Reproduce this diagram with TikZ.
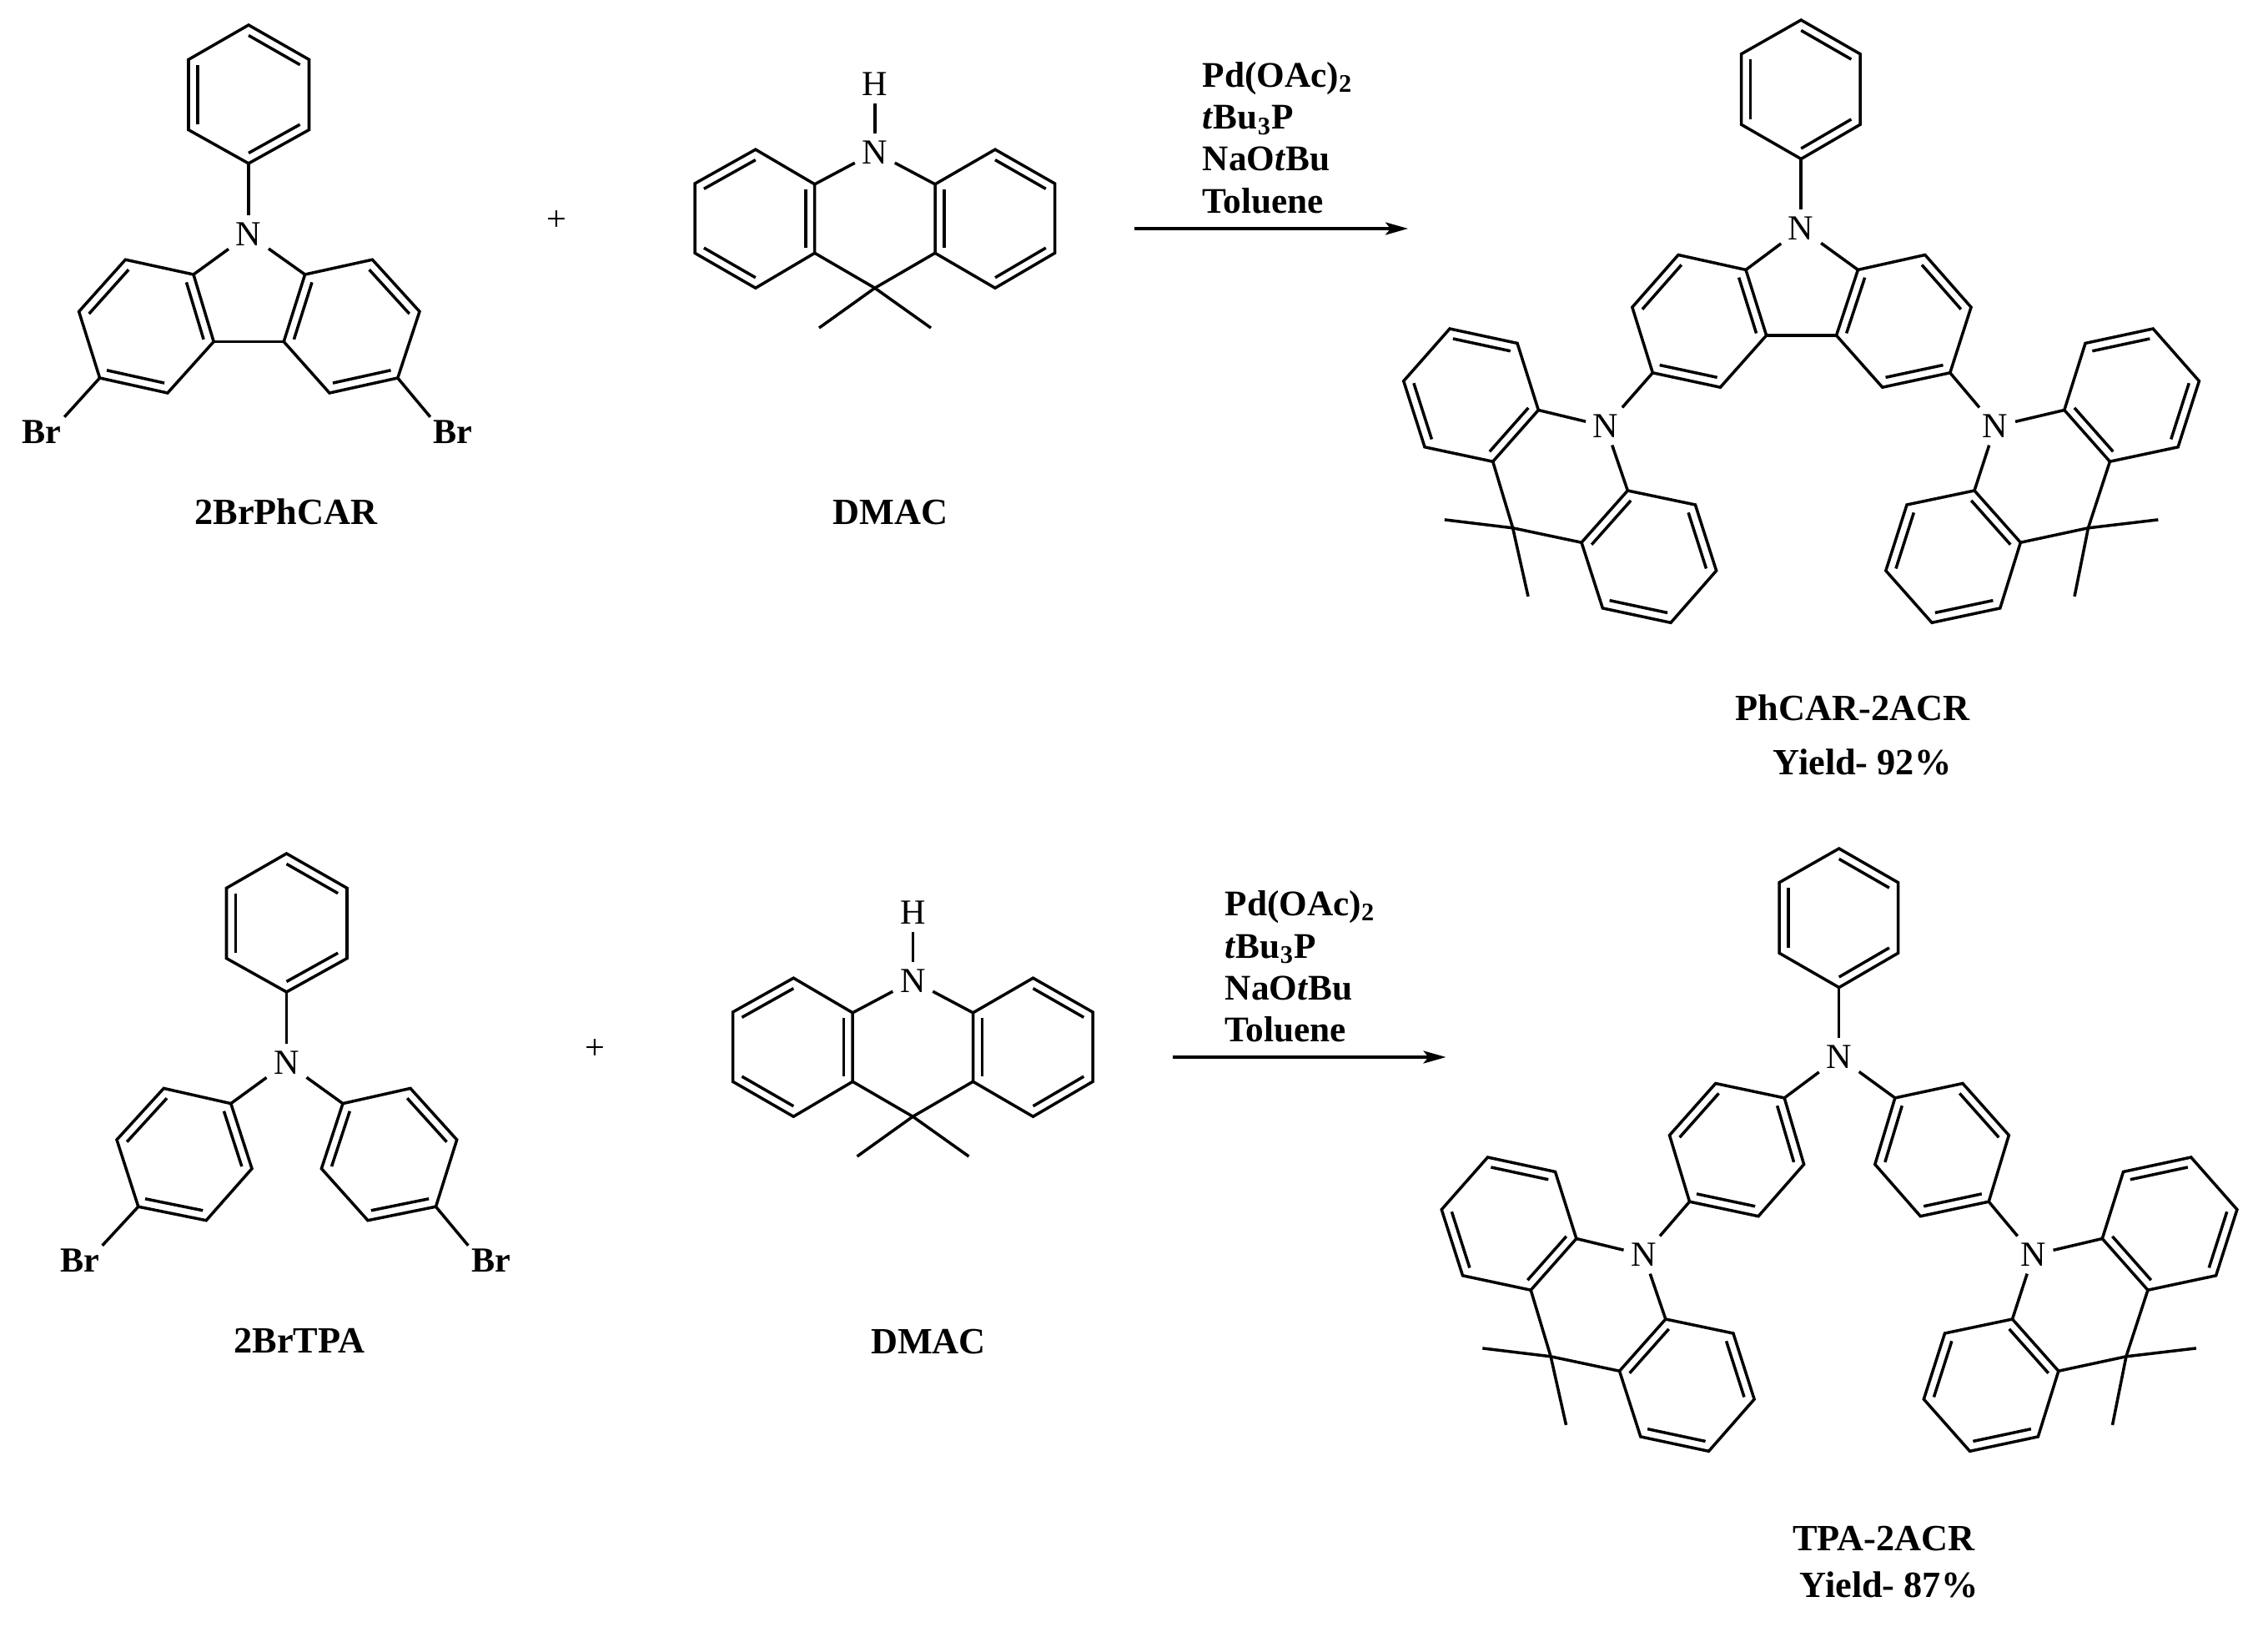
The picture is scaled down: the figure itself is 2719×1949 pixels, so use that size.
\documentclass[tikz,border=0pt]{standalone}
\usepackage{fontspec}
\setmainfont{Liberation Serif}
\usetikzlibrary{calc,arrows.meta}
% six carbons, double bonds on 1-2, 3-4 and 5-6
\newcommand{\hexring}[7]{%
\coordinate (#1-1) at (#2);
\coordinate (#1-2) at (#3);
\coordinate (#1-3) at (#4);
\coordinate (#1-4) at (#5);
\coordinate (#1-5) at (#6);
\coordinate (#1-6) at (#7);
\coordinate (#1-c) at ($(#1-1)!.5!(#1-4)$);
\draw (#1-1) -- (#1-2) -- (#1-3) -- (#1-4) -- (#1-5) -- (#1-6) -- cycle;
\draw ($(#1-1)!.15!(#1-c)$) -- ($(#1-2)!.15!(#1-c)$);
\draw ($(#1-3)!.15!(#1-c)$) -- ($(#1-4)!.15!(#1-c)$);
\draw ($(#1-5)!.15!(#1-c)$) -- ($(#1-6)!.15!(#1-c)$);
}
\begin{document}
\begin{tikzpicture}[x=0.01cm,y=-0.01cm,line width=1pt,
atom/.style={inner sep=0.07cm,font=\fontsize{12}{14}\selectfont},
halogen/.style={inner sep=0.02cm,font=\fontsize{12}{14}\selectfont\bfseries},
cmpd/.style={inner sep=0pt,anchor=base,font=\fontsize{12.6}{15}\selectfont\bfseries},
reagent/.style={inner sep=0pt,anchor=base west,font=\fontsize{12.3}{15}\selectfont\bfseries}]
\useasboundingbox (0,0) rectangle (2719,1949);
% middle rings of reactants and products
\hexring{a-sl}{256.2,409.5}{232,329}{150.4,311.2}{94.6,373.4}{119.6,453}{200.9,471}
\hexring{a-sr}{340.2,409.5}{365.6,329}{446.4,311.2}{503,373.4}{476.8,453}{395,471}
\hexring{b-sl}{302,1400.6}{276.8,1322.6}{196.3,1304.4}{140,1366}{165.8,1446.2}{247.2,1462.7}
\hexring{b-sr}{385.4,1400.6}{411,1322.6}{492,1304.4}{547.7,1366}{522.5,1446.2}{441,1462.7}
\hexring{a-pl}{2117.6,402}{2093,323.4}{2012,305.5}{1956.8,368.2}{1981.3,446.8}{2062.4,464.2}
\hexring{a-pr}{2201.5,402}{2227.4,323.4}{2307.8,305.5}{2363,368.2}{2337.8,446.8}{2256.7,464.2}
\hexring{b-pl}{2162.6,1395.5}{2139.2,1315.9}{2056.7,1298.5}{2001.5,1360.6}{2025.5,1440.2}{2108,1457.7}
\hexring{b-pr}{2247.8,1395.5}{2271.8,1315.9}{2353,1298.5}{2408.3,1360.6}{2384.2,1440.2}{2302.3,1457.7}
\draw (a-sl-1) -- (a-sr-1);
\draw (a-pl-1) -- (a-pr-1);
% the same parts in both rows
\foreach \rw/\dx/\dy in {a/0/0,b/45.5/993} {
\begin{scope}[shift={(\dx,\dy)}]
% dibromide
\hexring{\rw-sph}{298,30}{370.5,71.4}{370.5,155.6}{298,195.9}{226,155.6}{226,71.4}
\node[atom] (\rw-sn) at (298,281) {N};
\node[halogen] (\rw-brl) at (50,517.4) {Br};
\node[halogen] (\rw-brr) at (543,517.4) {Br};
\draw (\rw-sph-4) -- (\rw-sn);
\draw (\rw-sn) -- (\rw-sl-2);
\draw (\rw-sn) -- (\rw-sr-2);
\draw (\rw-sl-5) -- (\rw-brl.north east);
\draw (\rw-sr-5) -- (\rw-brr.north west);
\node[atom,font=\fontsize{12}{14}\selectfont] (\rw-plus) at (667.4,265) {+};
% DMAC
\hexring{\rw-dl}{905.8,179.2}{833,220}{833,303.3}{905.8,345.2}{976.7,303.3}{976.7,220.8}
\hexring{\rw-dr}{1193,179.2}{1264.5,220}{1264.5,303.3}{1193,345.2}{1121,303.3}{1121,220.8}
\node[atom] (\rw-dn) at (1048.8,182.5) {N};
\node[atom] (\rw-dh) at (1048.8,101) {H};
\coordinate (\rw-dc) at (1048.8,345.2);
\coordinate (\rw-dm1) at (982,393);
\coordinate (\rw-dm2) at (1116,393);
\draw (\rw-dh) -- (\rw-dn);
\draw (\rw-dn) -- (\rw-dl-6);
\draw (\rw-dn) -- (\rw-dr-6);
\draw (\rw-dl-5) -- (\rw-dc) -- (\rw-dr-5);
\draw (\rw-dc) -- (\rw-dm1);
\draw (\rw-dc) -- (\rw-dm2);
\node[cmpd] (\rw-dlab) at (1067.5,629) {DMAC};
% arrow
\coordinate (\rw-as) at (1360,274);
\coordinate (\rw-ae) at (1688,274);
\draw[-{Stealth[length=0.27cm,width=0.15cm,inset=0.06cm]}] (\rw-as) -- (\rw-ae);
% product
\hexring{\rw-pph}{2159.2,24}{2230,64.7}{2230,149.3}{2159.2,190.5}{2087.6,149.3}{2087.6,64.7}
\node[atom] (\rw-pn) at (2159.2,274) {N};
\node[atom] (\rw-nl) at (1925,511) {N};
\node[atom] (\rw-nr) at (2392,511) {N};
\hexring{\rw-ul}{1789.7,553.2}{1844.3,491.5}{1819,411.4}{1738,394}{1682.7,456.7}{1708,535.8}
\hexring{\rw-ll}{1896,650.2}{1951.3,588}{2032.4,605}{2057.6,684}{2003,746.3}{1921.3,728.9}
\hexring{\rw-ur}{2529.4,553.2}{2474.8,491.5}{2500,411.4}{2581.2,394}{2636.4,456.7}{2611.1,535.8}
\hexring{\rw-lr}{2422.3,650.2}{2367,588}{2286,605}{2260.8,684}{2316,746.3}{2397.8,728.9}
\coordinate (\rw-cl) at (1813.6,632.8);
\coordinate (\rw-cr) at (2503.4,632.8);
\coordinate (\rw-ml1) at (1731.8,622.9);
\coordinate (\rw-ml2) at (1832,714.9);
\coordinate (\rw-mr1) at (2587.3,622.9);
\coordinate (\rw-mr2) at (2487,714.9);
\draw (\rw-pph-4) -- (\rw-pn);
\draw (\rw-pn) -- (\rw-pl-2);
\draw (\rw-pn) -- (\rw-pr-2);
\draw (\rw-pl-5) -- (\rw-nl);
\draw (\rw-pr-5) -- (\rw-nr);
\draw (\rw-nl) -- (\rw-ul-2);
\draw (\rw-nl) -- (\rw-ll-2);
\draw (\rw-nr) -- (\rw-ur-2);
\draw (\rw-nr) -- (\rw-lr-2);
\draw (\rw-ul-1) -- (\rw-cl) -- (\rw-ll-1);
\draw (\rw-ur-1) -- (\rw-cr) -- (\rw-lr-1);
\draw (\rw-cl) -- (\rw-ml1);
\draw (\rw-cl) -- (\rw-ml2);
\draw (\rw-cr) -- (\rw-mr1);
\draw (\rw-cr) -- (\rw-mr2);
\end{scope}
}
% reagents over the arrows
\foreach \rw/\tx/\ty in {a/1440/0,b/1467/993} {
\foreach \n/\y/\t in {1/104.5/{Pd(OAc)\textsubscript{2}},2/155/{\textit{t}Bu\textsubscript{3}P},3/205/{NaO\textit{t}Bu},4/255.5/{Toluene}}
\node[reagent] (\rw-rg\n) at (\tx,\y+\ty) {\t};
}
% names and yields
\node[cmpd] (a-slab) at (343,629) {2BrPhCAR};
\node[cmpd] (b-slab) at (358.7,1621.5) {2BrTPA};
\node[cmpd] (a-plab) at (2221,863) {PhCAR-2ACR};
\node[cmpd] (a-yld) at (2232.5,928) {Yield- 92\%};
\node[cmpd] (b-plab) at (2258.3,1858) {TPA-2ACR};
\node[cmpd] (b-yld) at (2264.5,1914.5) {Yield- 87\%};
\end{tikzpicture}
\end{document}
